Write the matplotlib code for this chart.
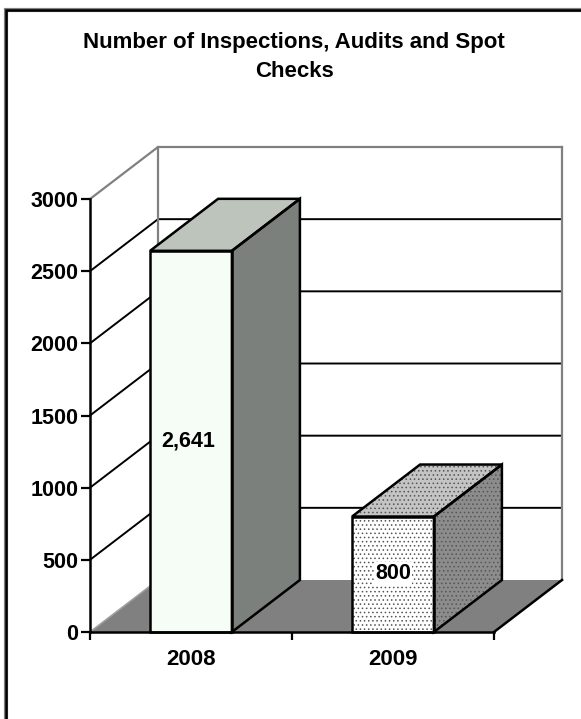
import matplotlib
matplotlib.use('Agg')
import matplotlib.pyplot as plt
from matplotlib.lines import Line2D

plt.rcParams['font.family'] = ['Liberation Sans', 'DejaVu Sans']
plt.rcParams['hatch.linewidth'] = 0.6

W, H = 581, 719

title = 'Number of Inspections, Audits and Spot\nChecks'
years = ['2008', '2009']
values = [2641, 800]
value_labels = ['2,641', '800']
y_ticks = [0, 500, 1000, 1500, 2000, 2500, 3000]

# front plane of the fake 3d box, in pixels
left, right, bottom, top = 90, 494, 632, 199
# depth of the box in data units
depth_x = 68 / 202.0
depth_y = 52 / (433 / 3000.0)
bar_w = 0.405
y_max = 3000

fig = plt.figure(figsize=(W / 100, H / 100), dpi=100, facecolor='white')
# only the top and left edges of the frame are inside the picture
frame_x = [5.5 / W, 5.5 / W, 1]
frame_y = [0, 1 - 9.5 / H, 1 - 9.5 / H]
fig.add_artist(Line2D(frame_x, frame_y, transform=fig.transFigure, color='#808080', lw=3.0, solid_joinstyle='miter'))
fig.add_artist(Line2D(frame_x, frame_y, transform=fig.transFigure, color='black', lw=1.8, solid_joinstyle='miter'))
fig.text(294 / W, 1 - 57 / H, title, ha='center', va='center', fontsize=16,
         fontweight='bold', linespacing=1.52)

ax = fig.add_axes([left / W, 1 - bottom / H, (right - left) / W, (bottom - top) / H])
ax.set_xlim(0, 2)
ax.set_ylim(0, y_max)
ax.patch.set_visible(False)

# floor
ax.fill([0, depth_x, 2 + depth_x, 2], [0, depth_y, depth_y, 0], fc='#808080', ec='none', clip_on=False, zorder=1)
ax.plot([0, depth_x], [0, depth_y], color='#a0a0a0', lw=1.2, clip_on=False, zorder=1.1)
ax.plot([2, 2 + depth_x], [0, depth_y], color='black', lw=1.8, clip_on=False, zorder=1.5)

# gridlines run along side wall and back wall
for t in y_ticks[1:-1]:
    ax.plot([0, depth_x, 2 + depth_x], [t, t + depth_y, t + depth_y], color='black', lw=1.4, clip_on=False, zorder=1.2)

# back wall and side wall
ax.plot([0, depth_x, 2 + depth_x], [y_max, y_max + depth_y, y_max + depth_y], color='#808080', lw=1.6, clip_on=False, zorder=1.3)
ax.plot([depth_x, depth_x], [depth_y, y_max + depth_y], color='#808080', lw=1.6, clip_on=False, zorder=1.3)
ax.plot([2 + depth_x, 2 + depth_x], [depth_y, y_max + depth_y], color='#808080', lw=1.6, clip_on=False, zorder=1.3)

styles = [
    {'front': '#f6fcf6', 'side': '#7c807c', 'top': '#bcc4bc', 'hatch': None},
    {'front': 'white', 'side': '#8c8c8c', 'top': '#c4c4c4', 'hatch': '....'},
]
label_y = [1323, 405]
label_dx = [-0.012, 0]
for i, v in enumerate(values):
    x0 = i + 0.5 - bar_w / 2
    x1 = x0 + bar_w
    s = styles[i]
    hatch_col = '#555555' if s['hatch'] else 'none'
    for xs, ys, fc in [
        ([x1, x1 + depth_x, x1 + depth_x, x1], [0, depth_y, v + depth_y, v], s['side']),
        ([x0, x0 + depth_x, x1 + depth_x, x1], [v, v + depth_y, v + depth_y, v], s['top']),
        ([x0, x1, x1, x0], [0, 0, v, v], s['front']),
    ]:
        ax.fill(xs, ys, fc=fc, ec=hatch_col, hatch=s['hatch'], lw=0, clip_on=False, zorder=3)
        ax.fill(xs, ys, fc='none', ec='black', lw=1.8, joinstyle='miter', clip_on=False, zorder=3.1)
    ax.text(0.5 * (x0 + x1) + label_dx[i], label_y[i], value_labels[i], ha='center', va='center', fontsize=15.5,
            fontweight='bold', zorder=4,
            bbox=dict(fc=s['front'], ec='none', pad=1) if i == 1 else None)

for side in ['top', 'right']:
    ax.spines[side].set_visible(False)
for side in ['left', 'bottom']:
    ax.spines[side].set_linewidth(1.8)
    ax.spines[side].set_zorder(5)

ax.set_yticks(y_ticks)
ax.set_xticks([0, 1, 2])
ax.set_xticklabels([])
ax.set_xticks([0.5, 1.5], labels=years, minor=True)
ax.tick_params(axis='y', which='major', length=6.5, width=1.6, labelsize=15.5, pad=2)
ax.tick_params(axis='x', which='major', length=6, width=1.6)
ax.tick_params(axis='x', which='minor', length=0, labelsize=16, pad=12)
for lab in ax.get_yticklabels() + ax.get_xticklabels(minor=True):
    lab.set_fontweight('bold')

fig.savefig('out.png', dpi=100)
